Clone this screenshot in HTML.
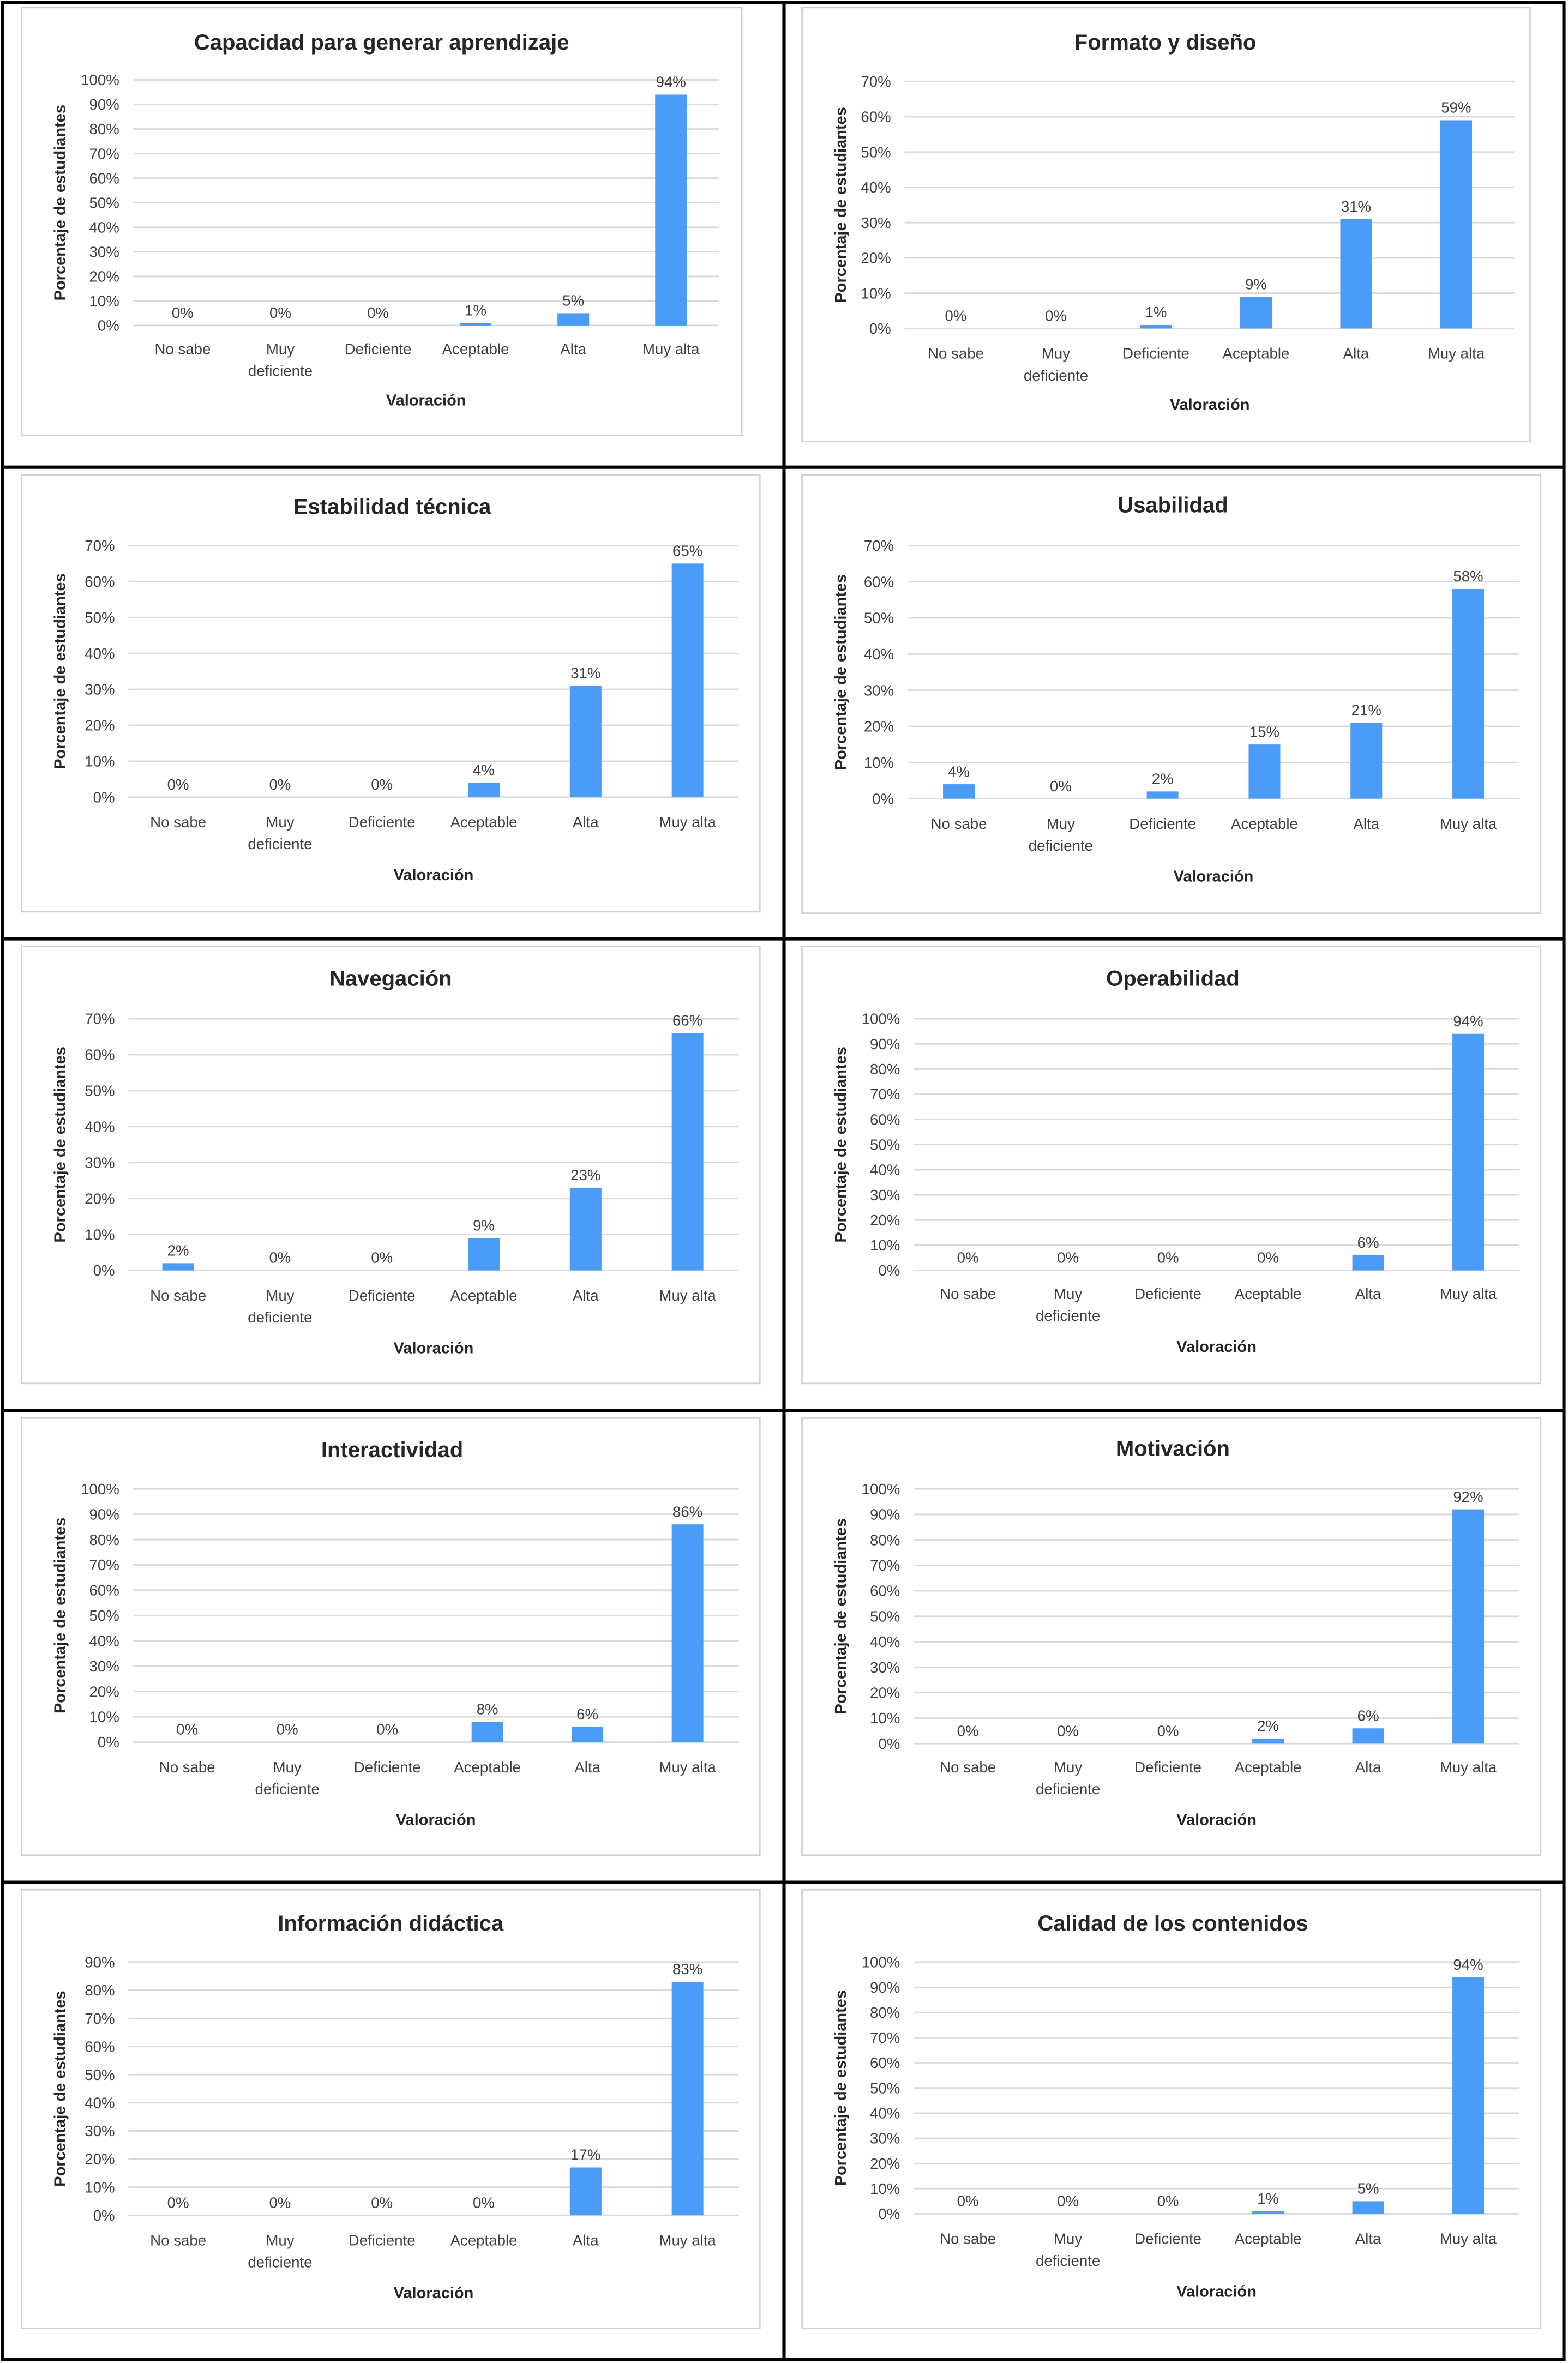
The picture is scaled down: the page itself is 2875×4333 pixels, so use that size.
<!DOCTYPE html>
<html><head><meta charset="utf-8">
<style>
html,body{margin:0;padding:0;background:#fff;}
svg{display:block;}
text{font-family:"Liberation Sans",sans-serif;}
</style></head>
<body>
<svg id="root" xmlns="http://www.w3.org/2000/svg" width="2875" height="4333" viewBox="0 0 1040 1568">
<rect x="0" y="0" width="1040" height="1568" fill="#fff"/>
<g id="charts"></g>
<g stroke="#000" stroke-width="2.2" fill="none">
<rect x="1.5" y="1.5" width="1036" height="1564"/>
<line x1="520" y1="1" x2="520" y2="1566"/>
<line x1="1" y1="310" x2="1038" y2="310"/>
<line x1="1" y1="623" x2="1038" y2="623"/>
<line x1="1" y1="936" x2="1038" y2="936"/>
<line x1="1" y1="1249" x2="1038" y2="1249"/>
</g>
</svg>
<script>
const categories = ["No sabe","Muy deficiente","Deficiente","Aceptable","Alta","Muy alta"];
const titles = ["Capacidad para generar aprendizaje","Formato y diseño","Estabilidad técnica","Usabilidad","Navegación","Operabilidad","Interactividad","Motivación","Información didáctica","Calidad de los contenidos"];
const values1 = [0,0,0,1,5,94];
const values2 = [0,0,1,9,31,59];
const values3 = [0,0,0,4,31,65];
const values4 = [4,0,2,15,21,58];
const values5 = [2,0,0,9,23,66];
const values6 = [0,0,0,0,6,94];
const values7 = [0,0,0,8,6,86];
const values8 = [0,0,0,2,6,92];
const values9 = [0,0,0,0,17,83];
const values10 = [0,0,0,1,5,94];
const axisMax = [100,70,70,70,70,100,100,100,90,100];

const allValues = [values1,values2,values3,values4,values5,values6,values7,values8,values9,values10];
const layout = [
 {bx:14,by:5,bw:478,bh:284,tc:253,ty:33,x0:88,x1:477,y0:216,yt:53,c0:121,sp:64.8,ly:235,vy:269,yx:43},
 {bx:532,by:5,bw:483,bh:288,tc:773,ty:33,x0:600,x1:1005,y0:218,yt:54,c0:634,sp:66.4,ly:238,vy:272,yx:561},
 {bx:14,by:315,bw:490,bh:290,tc:260,ty:341,x0:85,x1:490,y0:529,yt:362,c0:118,sp:67.6,ly:549,vy:584,yx:43},
 {bx:532,by:315,bw:490,bh:291,tc:778,ty:340,x0:602,x1:1008,y0:530,yt:362,c0:636,sp:67.6,ly:550,vy:585,yx:561},
 {bx:14,by:628,bw:490,bh:290,tc:259,ty:654,x0:85,x1:490,y0:843,yt:676,c0:118,sp:67.6,ly:863,vy:898,yx:43},
 {bx:532,by:628,bw:490,bh:290,tc:778,ty:654,x0:606,x1:1008,y0:843,yt:676,c0:642,sp:66.4,ly:862,vy:897,yx:561},
 {bx:14,by:941,bw:490,bh:290,tc:260,ty:967,x0:88,x1:490,y0:1156,yt:988,c0:124,sp:66.4,ly:1176,vy:1211,yx:43},
 {bx:532,by:941,bw:490,bh:290,tc:778,ty:966,x0:606,x1:1008,y0:1157,yt:988,c0:642,sp:66.4,ly:1176,vy:1211,yx:561},
 {bx:14,by:1254,bw:490,bh:291,tc:259,ty:1281,x0:85,x1:490,y0:1470,yt:1302,c0:118,sp:67.6,ly:1490,vy:1525,yx:43},
 {bx:532,by:1254,bw:490,bh:291,tc:778,ty:1281,x0:606,x1:1008,y0:1469,yt:1302,c0:642,sp:66.4,ly:1489,vy:1524,yx:561}
];
const NS = "http://www.w3.org/2000/svg";
const host = document.getElementById("charts");
function mk(tag, attrs, parent){
  const e = document.createElementNS(NS, tag);
  for (const k in attrs) e.setAttribute(k, attrs[k]);
  parent.appendChild(e);
  return e;
}
allValues.forEach((vals, i) => {
  const L = layout[i], max = axisMax[i];
  const yScale = v => L.y0 - (v / max) * (L.y0 - L.yt);
  const xScale = j => L.c0 + j * L.sp;
  const g = mk("g", {}, host);
  
  
  const box = mk("rect", {x:L.bx, y:L.by, width:L.bw, height:L.bh, fill:"#fff", stroke:"#d0d0d0", "stroke-width":1}, g);
  
  
  const t = mk("text", {x:L.tc, y:L.ty, "text-anchor":"middle", "font-size":14.5, "font-weight":"bold", fill:"#262626"}, g);
  t.textContent = titles[i];
  
  
  for (let v = 0; v <= max; v += 10) {
    const y = yScale(v);
    const gl = mk("line", {x1:L.x0, x2:L.x1, y1:y, y2:y, stroke:"#d9d9d9", "stroke-width":1}, g);
    
    
    const tl = mk("text", {x:L.x0-9, y:y+3.5, "text-anchor":"end", "font-size":10, fill:"#404040"}, g);
    tl.textContent = v + "%";
    
    
  }
  vals.forEach((v, j) => {
    const cx = xScale(j), yt = yScale(v);
    const b = mk("rect", {x:cx-10.5, y:yt, width:21, height:L.y0-yt, fill:"#4a9cf8"}, g);
    
    
    const lb = mk("text", {x:cx, y:yt-5, "text-anchor":"middle", "font-size":10, fill:"#404040"}, g);
    lb.textContent = v + "%";
    
    
    const parts = categories[j] === "Muy deficiente" ? ["Muy","deficiente"] : [categories[j]];
    parts.forEach((p, k) => {
      const c = mk("text", {x:cx, y:L.ly + k*14.5, "text-anchor":"middle", "font-size":10, fill:"#404040"}, g);
      c.textContent = p;
      
      
    });
  });
  const xt = mk("text", {x:(L.x0+L.x1)/2, y:L.vy, "text-anchor":"middle", "font-size":10.5, "font-weight":"bold", fill:"#262626"}, g);
  xt.textContent = "Valoración";
  
  
  const ym = (L.y0 + L.yt) / 2;
  const yt2 = mk("text", {x:L.yx, y:ym, "text-anchor":"middle", "font-size":10.5, "font-weight":"bold", fill:"#262626", transform:"rotate(-90 "+L.yx+" "+ym+")"}, g);
  yt2.textContent = "Porcentaje de estudiantes";
  
  
});
</script>
</body></html>
